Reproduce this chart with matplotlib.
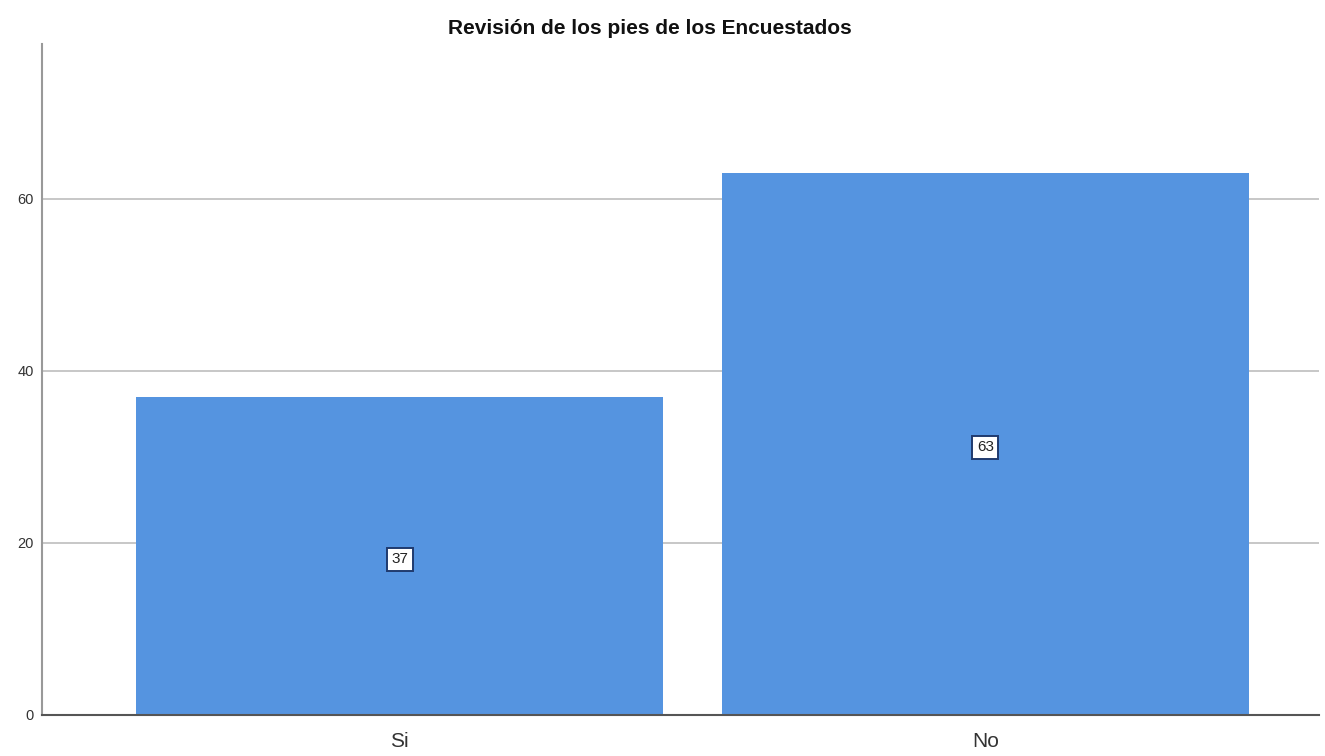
import matplotlib
matplotlib.use("Agg")
import matplotlib.pyplot as plt

plt.rcParams["font.family"] = ["Liberation Sans", "DejaVu Sans"]

categories = ["Si", "No"]
counts = [37, 63]
yticks = [0, 20, 40, 60]

fig = plt.figure(figsize=(13.25, 7.56), dpi=100)
ax = fig.add_axes([42 / 1325, 1 - 715 / 756, (1319 - 42) / 1325, (715 - 44) / 756])

x = range(len(categories))
ax.bar(x, counts, width=0.9, color="#5594e0", zorder=2)

for xi, v in zip(x, counts):
    ax.text(xi, v / 2 - 0.4, str(v), ha="center", va="center", fontsize=11,
            color="#222222", zorder=3,
            bbox=dict(boxstyle="square,pad=0.3", facecolor="white",
                      edgecolor="#1f3a6e", linewidth=1.4))

ax.set_xlim(-0.611, 1.570)
ax.set_ylim(0, 78)
ax.set_xticks(list(x))
ax.set_xticklabels(categories, fontsize=15, color="#333333")
ax.set_yticks(yticks)
ax.set_yticklabels([str(t) for t in yticks], fontsize=10.5, color="#333333")
ax.tick_params(axis="x", length=0, pad=12)
ax.tick_params(axis="y", length=0, pad=6)

ax.yaxis.grid(True, color="#bdbdbd", linewidth=1.2, zorder=0)
ax.set_axisbelow(True)

for side in ["top", "right"]:
    ax.spines[side].set_visible(False)
ax.spines["left"].set_color("#999999")
ax.spines["left"].set_linewidth(1.5)
ax.spines["bottom"].set_color("#555555")
ax.spines["bottom"].set_linewidth(1.5)

fig.text(650 / 1325, 1 - 28 / 756, "Revisión de los pies de los Encuestados",
         ha="center", va="center", fontsize=15, fontweight="bold", color="#111111")

fig.savefig("out.png", dpi=100)
